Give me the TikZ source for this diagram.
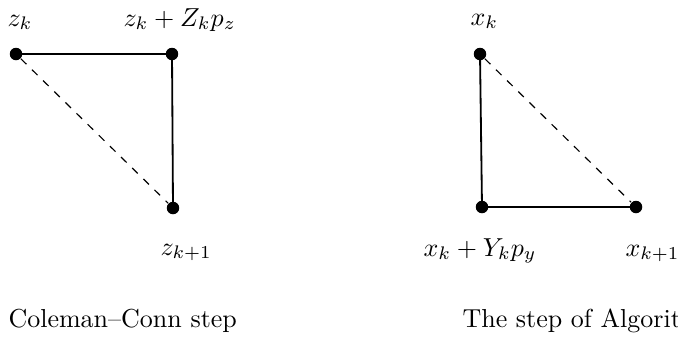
\documentclass[tikz,border=0pt]{standalone}
\begin{document}
\begin{tikzpicture}[x=0.3846pt,y=-0.3846pt,
  dot/.style={circle,fill=black,inner sep=0pt,minimum size=4.8pt},
  lbl/.style={anchor=base west,inner sep=0pt},
  edge/.style={line width=0.7pt},
  diag/.style={dashed,line width=0.45pt}]
\useasboundingbox (0,0) rectangle (678,337);
% left figure
\node[dot] (a) at (16,54) {};
\node[dot] (b) at (172,54) {};
\node[dot] (c) at (173,208) {};
\draw[edge] (a.center) -- (b.center) -- (c.center);
\draw[diag] (a) -- (c);
\node[lbl] (la) at (7,26) {$z_k$};
\node[lbl] (lb) at (123,26) {$z_k+Z_kp_z$};
\node[lbl] (lc) at (160,255) {$z_{k+1}$};
\node[lbl] (cap1) at (8,327) {Coleman--Conn step};
% right figure
\node[dot] (d) at (480,54) {};
\node[dot] (e) at (482,207) {};
\node[dot] (f) at (636,207) {};
\draw[edge] (d.center) -- (e.center) -- (f.center);
\draw[diag] (d) -- (f);
\node[lbl] (ld) at (470,25) {$x_k$};
\node[lbl] (le) at (423,256) {$x_k+Y_kp_y$};
\node[lbl] (lf) at (625,256) {$x_{k+1}$};
\node[lbl] (cap2) at (462,327) {The step of Algorit};
\end{tikzpicture}
\end{document}
